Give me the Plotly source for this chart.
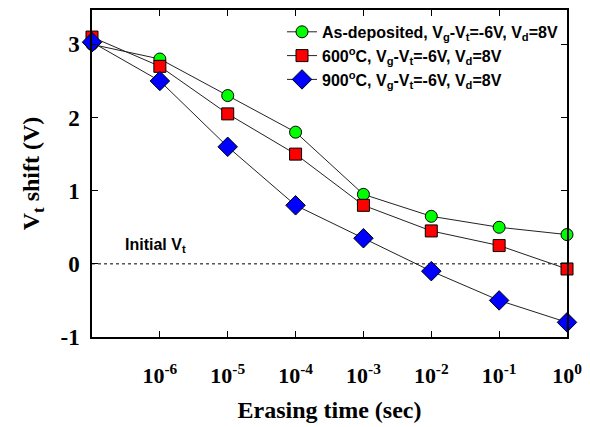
import plotly.graph_objects as go

times = [1e-7, 1e-6, 1e-5, 1e-4, 1e-3, 1e-2, 1e-1, 1e0]
as_dep = [3.0, 2.8, 2.3, 1.8, 0.95, 0.65, 0.5, 0.4]
c600 = [3.1, 2.7, 2.05, 1.5, 0.8, 0.45, 0.25, -0.07]
c900 = [3.03, 2.5, 1.6, 0.8, 0.35, -0.1, -0.5, -0.8]
x_tickvals = [1e-7, 1e-6, 1e-5, 1e-4, 1e-3, 1e-2, 1e-1, 1e0]
x_ticktext = ["", "10<sup>-6</sup>", "10<sup>-5</sup>", "10<sup>-4</sup>", "10<sup>-3</sup>",
              "10<sup>-2</sup>", "10<sup>-1</sup>", "10<sup>0</sup>"]
y_tickvals = [-1, 0, 1, 2, 3]
y_ticktext = ["-1", "0", "1", "2", "3"]
names = ["As-deposited, V<sub>g</sub>-V<sub>t</sub>=-6V, V<sub>d</sub>=8V",
         "600<sup>o</sup>C, V<sub>g</sub>-V<sub>t</sub>=-6V, V<sub>d</sub>=8V",
         "900<sup>o</sup>C, V<sub>g</sub>-V<sub>t</sub>=-6V, V<sub>d</sub>=8V"]

fig = go.Figure()
styles = [("circle", "#00ff00", 12), ("square", "#ff0000", 12), ("diamond", "#0000ff", 15)]
for ys, name, (sym, col, sz) in zip([as_dep, c600, c900], names, styles):
    fig.add_trace(go.Scatter(
        x=times, y=ys, mode="lines+markers", name=name,
        line=dict(color="#222222", width=1),
        marker=dict(symbol=sym, color=col, size=sz, line=dict(color="black", width=1)),
        cliponaxis=False))

fig.add_shape(type="line", xref="paper", x0=0, x1=1, yref="y", y0=0, y1=0,
              line=dict(color="black", width=1, dash="dot"), layer="below")
fig.add_annotation(x=-6.55, y=0.1, xref="x", yref="y", text="Initial V<sub>t</sub>",
                   showarrow=False, xanchor="left", yanchor="bottom",
                   font=dict(family="Arial", size=16, color="black", weight="bold"))

fig.update_layout(
    width=590, height=427,
    margin=dict(l=92, r=17, t=8, b=89),
    paper_bgcolor="white", plot_bgcolor="white",
    showlegend=True,
    legend=dict(x=0.4, y=0.985, xanchor="left", yanchor="top",
                font=dict(family="Arial", size=16, color="black", weight="bold"),
                bgcolor="rgba(0,0,0,0)", tracegroupgap=0, itemwidth=30),
    xaxis=dict(type="log", range=[-7, 0], tickvals=x_tickvals, ticktext=x_ticktext,
               ticks="inside", ticklen=6, tickcolor="black", mirror="ticks",
               showline=True, linecolor="black", linewidth=1.5, showgrid=False,
               zeroline=False, ticklabelstandoff=18,
               tickfont=dict(family="Times New Roman", size=22, color="black", weight="bold"),
               title=dict(text="Erasing time (sec)", standoff=14,
                          font=dict(family="Times New Roman", size=24, color="black", weight="bold"))),
    yaxis=dict(range=[-1, 3.47], tickvals=y_tickvals, ticktext=y_ticktext,
               ticks="inside", ticklen=6, tickcolor="black", mirror="ticks",
               showline=True, linecolor="black", linewidth=1.5, showgrid=False,
               zeroline=False, ticklabelstandoff=6,
               tickfont=dict(family="Times New Roman", size=23, color="black", weight="bold"),
               title=dict(text="V<sub>t</sub> shift (V)", standoff=14,
                          font=dict(family="Times New Roman", size=24, color="black", weight="bold"))),
)

fig.write_html("out.html")
